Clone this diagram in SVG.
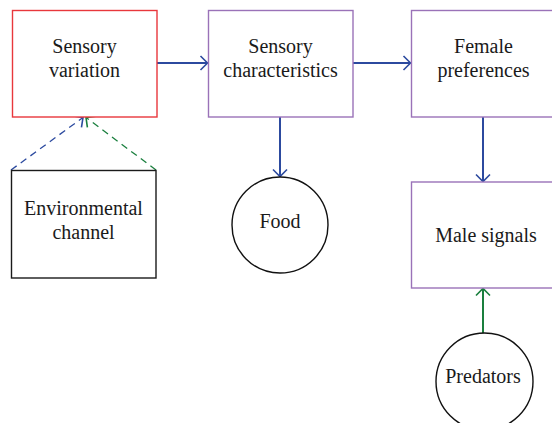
<svg xmlns="http://www.w3.org/2000/svg" width="552" height="423" viewBox="0 0 552 423">
<defs>
<style>
.box{fill:#fff;stroke-width:1.4}
.red{stroke:#e8373c}
.pur{stroke:#9a72b8}
.blk{stroke:#1a1a1a}
.circ{fill:#fff;stroke:#111;stroke-width:1.4}
text{font-family:"Liberation Serif","Times New Roman",serif;font-size:20px;fill:#1a1a1a;text-anchor:middle}
.cb{fill:none;stroke:#2c4a9f;stroke-width:2}
.cg{fill:none;stroke:#1a7f3e;stroke-width:2}
.db{fill:none;stroke:#2c4a9f;stroke-width:1.3;stroke-dasharray:7 5}
.dg{fill:none;stroke:#1a7f3e;stroke-width:1.3;stroke-dasharray:7 5}
</style>
<marker id="ab" viewBox="-10 -10 12 20" markerWidth="12" markerHeight="20" refX="0" refY="0" orient="auto" markerUnits="userSpaceOnUse"><path d="M-7,-7 L0,0 L-7,7" fill="none" stroke="#2c4a9f" stroke-width="1.6"/></marker>
<marker id="ag" viewBox="-10 -10 12 20" markerWidth="12" markerHeight="20" refX="0" refY="0" orient="auto" markerUnits="userSpaceOnUse"><path d="M-7,-7 L0,0 L-7,7" fill="none" stroke="#1a7f3e" stroke-width="1.6"/></marker>
</defs>
<rect width="552" height="423" fill="#fff"/>
<g id="connectors">
<line class="cb" x1="157" y1="63" x2="207.5" y2="63" marker-end="url(#ab)"/>
<line class="cb" x1="353" y1="63" x2="410.5" y2="63" marker-end="url(#ab)"/>
<line class="cb" x1="280" y1="117" x2="280" y2="176.5" marker-end="url(#ab)"/>
<line class="cb" x1="483" y1="117" x2="483" y2="181.5" marker-end="url(#ab)"/>
<line class="cg" x1="483" y1="333" x2="483" y2="288.5" marker-end="url(#ag)"/>
<line class="db" x1="11" y1="170" x2="83" y2="117.5" marker-end="url(#ab)"/>
<line class="dg" x1="156" y1="170" x2="86" y2="117.5" marker-end="url(#ag)"/>
</g>
<g id="sensory-variation">
<rect class="box red" x="12.5" y="10.5" width="144.5" height="106.5"/>
<text x="84.5" y="53">Sensory</text>
<text x="84.5" y="77">variation</text>
</g>
<g id="sensory-characteristics">
<rect class="box pur" x="208.5" y="10.5" width="144.5" height="106.5"/>
<text x="280.5" y="53">Sensory</text>
<text x="280.5" y="77">characteristics</text>
</g>
<g id="female-preferences">
<rect class="box pur" x="411.5" y="10.5" width="145" height="106.5"/>
<text x="483.5" y="53">Female</text>
<text x="483.5" y="77">preferences</text>
</g>
<g id="environmental-channel">
<rect class="box blk" x="11.5" y="170.5" width="144.5" height="107.5"/>
<text x="83.5" y="215">Environmental</text>
<text x="83.5" y="239">channel</text>
</g>
<g id="food">
<circle class="circ" cx="280" cy="225" r="48"/>
<text x="280" y="228">Food</text>
</g>
<g id="male-signals">
<rect class="box pur" x="411.5" y="182" width="145" height="106"/>
<text x="486" y="242">Male signals</text>
</g>
<g id="predators">
<circle class="circ" cx="484.5" cy="381.5" r="48.5"/>
<text x="483" y="383">Predators</text>
</g>
</svg>
